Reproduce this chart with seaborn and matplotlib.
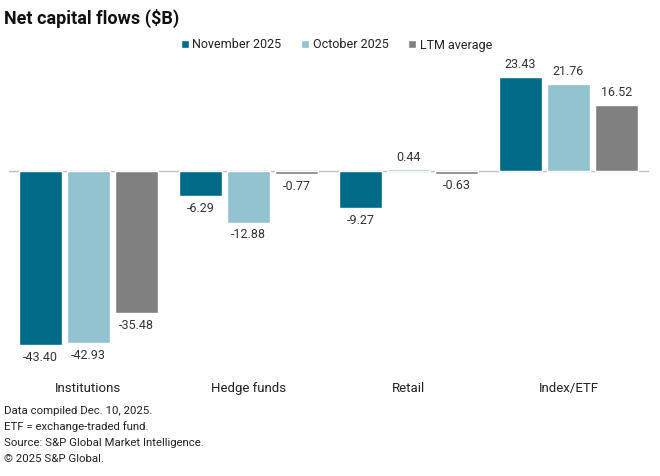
import pandas as pd
import matplotlib
matplotlib.use("Agg")
import matplotlib.pyplot as plt
import seaborn as sns

# ---------------------------
# Data
# ---------------------------
categories = ["Institutions", "Hedge funds", "Retail", "Index/ETF"]
series_names = ["November 2025", "October 2025", "LTM average"]
nov_2025 = [-43.40, -6.29, -9.27, 23.43]
oct_2025 = [-42.93, -12.88, 0.44, 21.76]
ltm_avg = [-35.48, -0.77, -0.63, 16.52]
colors = ["#006a87", "#93c2d1", "#808080"]

footnotes = [
    "Data compiled Dec. 10, 2025.",
    "ETF = exchange-traded fund.",
    "Source: S&P Global Market Intelligence.",
    "\u00a9 2025 S&P Global.",
]

rows = []
for name, vals in zip(series_names, [nov_2025, oct_2025, ltm_avg]):
    for cat, v in zip(categories, vals):
        rows.append({"category": cat, "series": name, "value": v})
df = pd.DataFrame(rows)

# ---------------------------
# Plot
# ---------------------------
sns.set_style("white")
plt.rcParams["font.family"] = ["Roboto", "DejaVu Sans"]

W, H = 660, 476
fig = plt.figure(figsize=(W / 100, H / 100), dpi=100)
ax = fig.add_axes([8.5 / W, 0.2447, 640 / W, 0.6488])

sns.barplot(
    data=df, x="category", y="value", hue="series",
    hue_order=series_names, order=categories,
    palette=colors, width=0.9, gap=0.1, saturation=1,
    ax=ax, legend=True,
)

for cont in ax.containers:
    ax.bar_label(cont, fmt="%.2f", padding=4, fontsize=9, color="#333333")

ax.axhline(0, color="#bfbfbf", lw=1, zorder=0)
ax.set_xlim(-0.5, 3.5)
ax.set_ylim(-47, 30)
ax.set_xlabel("")
ax.set_ylabel("")
ax.set_yticks([])
ax.tick_params(axis="x", length=0, pad=16, labelsize=9.5, labelcolor="#222222")
sns.despine(ax=ax, left=True, bottom=True)

handles, labels = ax.get_legend_handles_labels()
ax.get_legend().remove()
leg = fig.legend(
    handles, labels, loc="center left", bbox_to_anchor=(181 / W, 1 - 45 / H),
    ncol=3, frameon=False, fontsize=9, handlelength=0.6, handleheight=0.6,
    handletextpad=0.3, columnspacing=1.6, borderaxespad=0, borderpad=0,
)
for t in leg.get_texts():
    t.set_color("#222222")

fig.text(0.006, 1 - 18 / H, "Net capital flows ($B)", fontsize=13, fontweight="bold",
         color="#111111", va="center", ha="left")

for i, line in enumerate(footnotes):
    fig.text(0.006, 1 - (411 + i * 16) / H, line, fontsize=8.2, color="#222222",
             va="center", ha="left")

fig.savefig("out.png", dpi=100)
